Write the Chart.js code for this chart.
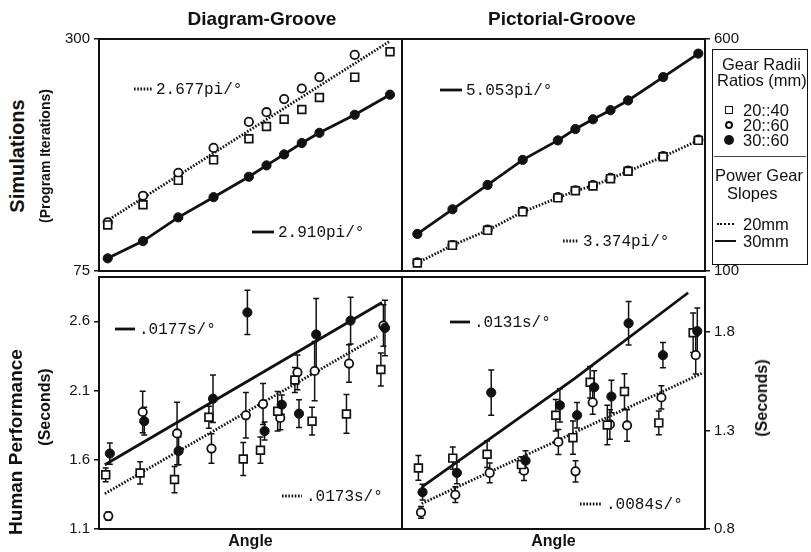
<!DOCTYPE html>
<html>
<head>
<meta charset="utf-8">
<script src="https://cdn.jsdelivr.net/npm/chart.js@4.4.1/dist/chart.umd.min.js"></script>
<style>
  body { margin: 0; background: #fff; }
  #fig { position: relative; width: 811px; height: 552px; font-family: "Liberation Sans", Arial, sans-serif; color: #111; }
  #fig canvas { position: absolute; }
  .lbl { position: absolute; white-space: nowrap; font-weight: bold; transform: translate(-50%, -50%); }
  .rot { transform: translate(-50%, -50%) rotate(-90deg); }
  #legend { position: absolute; left: 712px; top: 49px; width: 94px; height: 214px; border: 1.5px solid #111; font-size: 16.5px; }
  #legend div { position: absolute; white-space: nowrap; line-height: 18px; }
  .sym { position: absolute; box-sizing: border-box; }
</style>
</head>
<body>
<div id="fig">
  <canvas id="simDiag" width="372" height="258" style="left:40px;top:26px"></canvas>
  <canvas id="simPict" width="363" height="258" style="left:392px;top:26px"></canvas>
  <canvas id="humDiag" width="372" height="288" style="left:40px;top:264px"></canvas>
  <canvas id="humPict" width="363" height="288" style="left:392px;top:264px"></canvas>

  <div class="lbl" style="left:262px;top:19px;font-size:19px">Diagram-Groove</div>
  <div class="lbl" style="left:562px;top:19px;font-size:19px">Pictorial-Groove</div>
  <div class="lbl rot" style="left:17px;top:156px;font-size:20px">Simulations</div>
  <div class="lbl rot" style="left:45px;top:156px;font-size:14px">(Program Iterations)</div>
  <div class="lbl rot" style="left:16px;top:442px;font-size:19px">Human Performance</div>
  <div class="lbl rot" style="left:45px;top:407px;font-size:16px">(Seconds)</div>
  <div class="lbl rot" style="left:762px;top:398px;font-size:16px">(Seconds)</div>

  <div id="legend">
    <div style="left:9px;top:5px">Gear Radii</div>
    <div style="left:4px;top:21px">Ratios (mm)</div>
    <span class="sym" style="left:12px;top:56px;width:8px;height:8px;border:1.5px solid #111"></span>
    <div style="left:30px;top:51px">20::40</div>
    <span class="sym" style="left:12px;top:71px;width:8px;height:8px;border:2px solid #111;border-radius:50%"></span>
    <div style="left:30px;top:66px">20::60</div>
    <span class="sym" style="left:11px;top:85px;width:10px;height:10px;background:#111;border-radius:50%"></span>
    <div style="left:30px;top:81px">30::60</div>
    <span class="sym" style="left:1px;top:106px;width:92px;height:0;border-top:1px solid #444"></span>
    <div style="left:2px;top:116px">Power Gear</div>
    <div style="left:14px;top:134px">Slopes</div>
    <span class="sym" style="left:4px;top:173px;width:17px;height:0;border-top:2.5px dotted #111"></span>
    <div style="left:30px;top:165px">20mm</div>
    <span class="sym" style="left:2px;top:190px;width:21px;height:0;border-top:2.5px solid #111"></span>
    <div style="left:30px;top:182px">30mm</div>
  </div>
</div>

<script>
// angle positions shared by every gear ratio (degrees)
const angles = [10, 20, 30, 40, 50, 55, 60, 65, 70, 80, 90];

// Simulations: program iterations, Diagram-Groove
const simDiag2040 = [119.7, 139.3, 162.9, 182.8, 203.3, 215.2, 222.2, 231.6, 243.3, 263.0, 287.7];
const simDiag2060 = [122.3, 148.0, 170.2, 194.4, 219.6, 229.0, 241.7, 252.0, 263.0, 284.6, null];
const simDiag3060 = [87.3, 104.0, 127.0, 146.6, 166.4, 177.4, 188.1, 199.1, 209.0, 226.5, 246.0];
const simDiagFit20 = { x: [9.7, 90], y: [123.5, 298.0] };

// Simulations: program iterations, Pictorial-Groove
const simPict2040 = [117.4, 155.3, 187.6, 227.5, 257.6, 272.9, 283.4, 299.0, 315.0, 346.4, 381.5];
const simPict2060 = [118.5, 156.0, 189.0, 229.0, 259.0, 274.0, 285.0, 300.5, 316.5, 347.5, 383.0];
const simPict3060 = [179.8, 233.0, 285.5, 339.5, 381.5, 406.0, 427.0, 446.6, 467.6, 518.0, 568.5];

// Human performance: seconds (mean and error), Diagram-Groove
const humDiag2040 = [1.491, 1.505, 1.457, 1.907, 1.605, 1.669, 1.950, 2.176, 1.879, 1.931, 2.252];
const humDiag2040Err = [0.05, 0.08, 0.095, 0.08, 0.119, 0.095, 0.143, 0.09, 0.1, 0.14, 0.12];
const humDiag2060 = [1.193, 1.945, 1.790, 1.681, 1.921, 2.002, 1.902, 2.231, 2.241, 2.295, 2.569];
const humDiag2060Err = [0.03, 0.15, 0.226, 0.107, 0.164, 0.148, 0.086, 0.125, 0.214, 0.136, 0.15];
const humDiag3060 = [1.645, 1.879, 1.664, 2.041, 2.664, 1.807, 1.998, 1.933, 2.505, 2.605, 2.552];
const humDiag3060Err = [0.077, 0.1, 0.1, 0.171, 0.16, 0.065, 0.07, 0.1, 0.26, 0.169, 0.2];
const humDiagFit30 = { x: [9.0, 89.6], y: [1.564, 2.736] };
const humDiagFit20 = { x: [9.0, 88.2], y: [1.355, 2.490] };

// Human performance: seconds (mean and error), Pictorial-Groove
const humPict2040 = [1.110, 1.160, 1.180, 1.127, 1.378, 1.264, 1.545, 1.328, 1.498, 1.339, 1.797];
const humPict2040Err = [0.063, 0.057, 0.067, 0.04, 0.08, 0.084, 0.08, 0.1, 0.09, 0.06, 0.1];
const humPict2060 = [0.884, 0.974, 1.085, 1.096, 1.242, 1.093, 1.443, 1.331, 1.326, 1.468, 1.683];
const humPict2060Err = [0.03, 0.04, 0.05, 0.05, 0.063, 0.054, 0.06, 0.075, 0.08, 0.059, 0.096];
const humPict3060 = [0.987, 1.085, 1.493, 1.147, 1.428, 1.378, 1.520, 1.473, 1.845, 1.683, 1.805];
const humPict3060Err = [0.04, 0.055, 0.115, 0.05, 0.084, 0.065, 0.084, 0.082, 0.11, 0.064, 0.117];
const humPictFit30 = { x: [10.2, 54.8, 87.8], y: [1.013, 1.565, 2.0] };
const humPictFit20 = { x: [10.2, 92.2], y: [0.929, 1.594] };

// tick labels on each value axis
const simDiagTicks = [75, 300];
const simPictTicks = [100, 600];
const humDiagTicks = [1.1, 1.6, 2.1, 2.6];
const humPictTicks = [0.8, 1.3, 1.8];

// slope captions
const slopeText = {
  simDiag: ["2.677pi/\u00b0", "2.910pi/\u00b0"],
  simPict: ["5.053pi/\u00b0", "3.374pi/\u00b0"],
  humDiag: [".0177s/\u00b0", ".0173s/\u00b0"],
  humPict: [".0131s/\u00b0", ".0084s/\u00b0"]
};

// small horizontal offsets so the three ratios don't sit on top of each other
const jitter = { square: -0.75, circle: 0, filled: 0.45 };

const INK = "#111";
const DOTS = [1.6, 1.6];

const toPoints = (xs, ys, dx = 0) =>
  ys.map((y, i) => ({ x: xs[i] + dx, y })).filter(p => p.y !== null);

function squares(ys, errs, dx) {
  return { data: toPoints(angles, ys, dx), errors: errs, pointStyle: "rect", pointRadius: 5.5,
    backgroundColor: "#fff", borderColor: INK, borderWidth: 1.7, order: 1 };
}
function circles(ys, errs, dx) {
  return { data: toPoints(angles, ys, dx), errors: errs, pointStyle: "circle", pointRadius: 4.2,
    backgroundColor: "#fff", borderColor: INK, borderWidth: 1.8, order: 1 };
}
function filled(ys, errs, dx) {
  return { data: toPoints(angles, ys, dx), errors: errs, pointStyle: "circle", pointRadius: 4.6,
    backgroundColor: INK, borderColor: INK, borderWidth: 1, order: 0 };
}
function fitLine(fit, dashed) {
  return { type: "line", data: toPoints(fit.x, fit.y), showLine: true, pointRadius: 0,
    borderColor: INK, borderWidth: 2.8, borderDash: dashed ? DOTS : [], fill: false, tension: 0, order: 2 };
}
function trace(ys, dashed) {
  return fitLine({ x: angles, y: ys }, dashed);
}

// vertical error bars with short caps
const errorBars = {
  id: "errorBars",
  beforeDatasetsDraw(chart) {
    const { ctx, scales: { x, y } } = chart;
    ctx.save();
    ctx.strokeStyle = INK;
    ctx.lineWidth = 1.5;
    chart.data.datasets.forEach(ds => {
      if (!ds.errors) return;
      ds.data.forEach((p, i) => {
        const e = ds.errors[i];
        const px = x.getPixelForValue(p.x);
        const top = y.getPixelForValue(p.y + e);
        const bot = y.getPixelForValue(p.y - e);
        ctx.beginPath();
        ctx.moveTo(px, top); ctx.lineTo(px, bot);
        ctx.moveTo(px - 3, top); ctx.lineTo(px + 3, top);
        ctx.moveTo(px - 3, bot); ctx.lineTo(px + 3, bot);
        ctx.stroke();
      });
    });
    ctx.restore();
  }
};

// panel frame plus the two slope captions
function panelDecor(notes) {
  return {
    id: "panelDecor",
    afterDraw(chart) {
      const { ctx, chartArea: a } = chart;
      ctx.save();
      ctx.strokeStyle = INK;
      ctx.lineWidth = 2;
      ctx.strokeRect(a.left, a.top, a.right - a.left, a.bottom - a.top);
      ctx.font = "16px 'Liberation Mono', 'Courier New', monospace";
      ctx.fillStyle = INK;
      ctx.textBaseline = "middle";
      notes.forEach(n => {
        const y = a.top + n.y;
        ctx.beginPath();
        ctx.lineWidth = 2.8;
        ctx.setLineDash(n.dashed ? DOTS : []);
        ctx.moveTo(a.left + n.x, y);
        ctx.lineTo(a.left + n.x + n.len, y);
        ctx.stroke();
        ctx.setLineDash([]);
        ctx.fillText(n.text, a.left + n.x + n.len + 4, y + 1);
      });
      ctx.restore();
    }
  };
}

function valueAxis(position, min, max, ticks, width) {
  return {
    position, min, max,
    afterBuildTicks: s => { s.ticks = ticks.map(v => ({ value: v })); },
    afterFit: s => { s.width = width; },
    ticks: { color: INK, padding: 4, font: { family: "'Liberation Sans', Arial", size: 15 },
      callback: v => String(v) },
    grid: { drawOnChartArea: false, drawTicks: true, tickLength: 5, color: INK, lineWidth: 1.5 },
    border: { display: true, color: INK, width: 2 }
  };
}

// the angle axis only carries its title on the lower row
function angleAxis(min, max, withTitle) {
  return {
    type: "linear", position: "bottom", min, max,
    display: withTitle,
    afterFit: s => { s.height = withTitle ? 23 : 0; },
    ticks: { display: false },
    grid: { display: false },
    border: { display: false },
    title: { display: true, text: "Angle", color: INK, padding: { top: 0, bottom: 1 },
      font: { family: "'Liberation Sans', Arial", size: 16, weight: "bold" } }
  };
}

function panel(id, datasets, xScale, yScale, notes, padding) {
  new Chart(document.getElementById(id), {
    type: "scatter",
    data: { datasets },
    options: {
      responsive: false,
      animation: false,
      layout: { padding },
      plugins: { legend: { display: false }, tooltip: { enabled: false } },
      scales: { x: xScale, y: yScale }
    },
    plugins: [errorBars, panelDecor(notes)]
  });
}

// ========================= Simulations ========================= //
panel("simDiag", [
    trace(simDiag3060, false),
    fitLine(simDiagFit20, true),
    squares(simDiag2040, null, 0),
    circles(simDiag2060, null, 0),
    filled(simDiag3060, null, 0)
  ],
  angleAxis(7.53, 93.4, false),
  valueAxis("left", 75, 300, simDiagTicks, 59),
  [{ text: slopeText.simDiag[0], dashed: true, x: 35, y: 50, len: 18 },
   { text: slopeText.simDiag[1], dashed: false, x: 153, y: 193, len: 22 }],
  { top: 10, bottom: 10, left: 0, right: 10 });

panel("simPict", [
    trace(simPict3060, false),
    trace(simPict2040, true),
    squares(simPict2040, null, 0),
    circles(simPict2060, null, 0),
    filled(simPict3060, null, 0)
  ],
  angleAxis(5.63, 91.9, false),
  valueAxis("right", 100, 600, simPictTicks, 50),
  [{ text: slopeText.simPict[0], dashed: false, x: 38, y: 51, len: 22 },
   { text: slopeText.simPict[1], dashed: true, x: 161, y: 202, len: 16 }],
  { top: 10, bottom: 10, left: 10, right: 0 });

// ========================= Human Performance ========================= //
panel("humDiag", [
    fitLine(humDiagFit30, false),
    fitLine(humDiagFit20, true),
    squares(humDiag2040, humDiag2040Err, jitter.square),
    circles(humDiag2060, humDiag2060Err, jitter.circle),
    filled(humDiag3060, humDiag3060Err, jitter.filled)
  ],
  angleAxis(7.3, 95.4, true),
  valueAxis("left", 1.1, 2.92, humDiagTicks, 59),
  [{ text: slopeText.humDiag[0], dashed: false, x: 16, y: 52, len: 20 },
   { text: slopeText.humDiag[1], dashed: true, x: 183, y: 219, len: 20 }],
  { top: 10, bottom: 0, left: 0, right: 10 });

panel("humPict", [
    fitLine(humPictFit30, false),
    fitLine(humPictFit20, true),
    squares(humPict2040, humPict2040Err, jitter.square),
    circles(humPict2060, humPict2060Err, jitter.circle),
    filled(humPict3060, humPict3060Err, jitter.filled)
  ],
  angleAxis(4.47, 92.7, true),
  valueAxis("right", 0.8, 2.08, humPictTicks, 50),
  [{ text: slopeText.humPict[0], dashed: false, x: 48, y: 45, len: 20 },
   { text: slopeText.humPict[1], dashed: true, x: 178, y: 227, len: 22 }],
  { top: 10, bottom: 0, left: 10, right: 0 });
</script>
</body>
</html>
